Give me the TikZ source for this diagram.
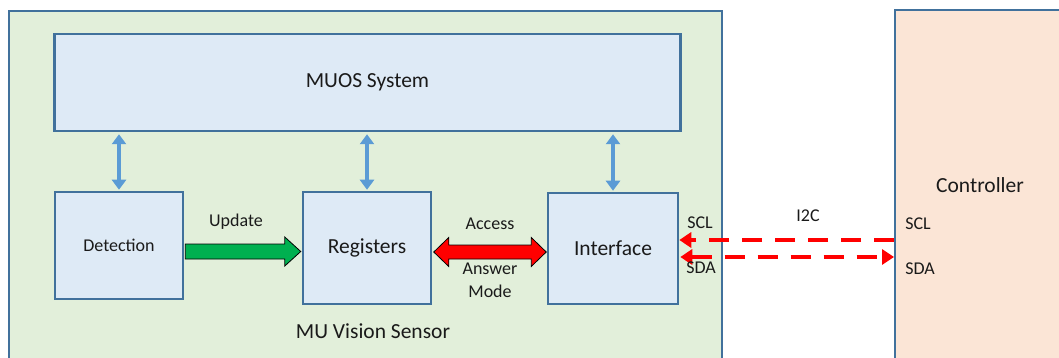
\documentclass[tikz,border=0pt]{standalone}
\usepackage{fontspec}
\setmainfont{Carlito}
\usetikzlibrary{arrows.meta,calc}
\definecolor{bord}{HTML}{41719C}
\definecolor{gfill}{HTML}{E2EFDA}
\definecolor{bfill}{HTML}{DEEAF6}
\definecolor{ofill}{HTML}{FBE5D6}
\definecolor{larrow}{HTML}{5B9BD5}
\definecolor{garrow}{HTML}{00B050}
\definecolor{txt}{HTML}{1A1A1A}
\tikzset{
  blk/.style={draw=bord, line width=2.5pt, fill=bfill, inner sep=0pt, text=txt},
  big/.style={font=\fontsize{21.5}{24}\selectfont, text=txt, inner sep=0pt},
  small/.style={font=\fontsize{18}{21}\selectfont, text=txt, inner sep=0pt},
  vlink/.style={draw=larrow, line width=4pt, {Triangle[width=14pt,length=10pt]}-{Triangle[width=14pt,length=10pt]}, shorten <=2pt, shorten >=1pt},
  bus/.style={draw=red, line width=4pt, dash pattern=on 20pt off 13pt},
  bushead/.tip={Triangle[width=15pt,length=12pt]}
}
\begin{document}
\begin{tikzpicture}[x=1pt,y=-1pt]
\useasboundingbox (0,0) rectangle (1059,358);
\begin{scope}
\clip (0,0) rectangle (1059,358);
% outer boxes
\fill[gfill] (9,11) rectangle (722,370);
\draw[bord, line width=2.5pt] (9,370) -- (9,11) -- (722,11) -- (722,370);
\fill[ofill] (895,10) rectangle (1070,370);
\draw[bord, line width=2.5pt] (895,370) -- (895,10) -- (1070,10);
\end{scope}
% inner blocks
\node[blk, minimum width=626pt, minimum height=97pt, big] (muos) at (367.5,82.5) {MUOS System};
\node[blk, minimum width=128pt, minimum height=107pt, small] (det) at (119,245.5) {Detection};
\node[blk, minimum width=128pt, minimum height=112pt, big] (reg) at (367,248) {Registers};
\node[blk, minimum width=130pt, minimum height=111pt, big] (intf) at (613,248.5) {Interface};
% vertical links
\draw[vlink] (muos.south -| det.north) -- (det.north);
\draw[vlink] (muos.south -| reg.north) -- (reg.north);
\draw[vlink] (muos.south -| intf.north) -- (intf.north);
% green block arrow
\coordinate (g1) at ($(det.east |- 0,251.5)+(1,0)$);
\coordinate (g2) at ($(reg.west |- 0,251.5)+(-1,0)$);
\filldraw[fill=garrow, draw=black, line width=0.8pt, line join=miter]
  ($(g1)+(0,-7.5)$) -- ($(g2)+(-16,-7.5)$) -- ($(g2)+(-16,-14.5)$) -- (g2)
  -- ($(g2)+(-16,14.5)$) -- ($(g2)+(-16,7.5)$) -- ($(g1)+(0,7.5)$) -- cycle;
% red double block arrow
\coordinate (r1) at ($(reg.east |- 0,252)+(1.5,0)$);
\coordinate (r2) at ($(intf.west |- 0,252)+(-0.5,0)$);
\filldraw[fill=red, draw=black, line width=0.8pt, line join=miter]
  (r1) -- ($(r1)+(15,-14.5)$) -- ($(r1)+(15,-7)$) -- ($(r2)+(-15,-7)$) -- ($(r2)+(-15,-14.5)$) -- (r2)
  -- ($(r2)+(-15,14.5)$) -- ($(r2)+(-15,7)$) -- ($(r1)+(15,7)$) -- ($(r1)+(15,14.5)$) -- cycle;
% I2C bus
\coordinate (ctlscl) at (894,240);
\coordinate (ctlsda) at (894,257);
\draw[bus, -bushead] (ctlscl) -- (intf.east |- ctlscl);
\draw[bus, bushead-bushead] ($(intf.east |- ctlsda)+(1,0)$) -- (ctlsda);
% labels
\node[small] (lupd) at (236,222) {Update};
\node[small] (lacc) at (490,224) {Access};
\node[small] (lans) at (490,269) {Answer};
\node[small] (lmode) at (490,291) {Mode};
\node[big] (lmu) at (373,331) {MU Vision Sensor};
\node[small] (lscl1) at (700,223) {SCL};
\node[small] (lsda1) at (701,268) {SDA};
\node[small] (li2c) at (808,216) {I2C};
\node[big] (lctl) at (980,185) {Controller};
\node[small] (lscl2) at (918,224) {SCL};
\node[small] (lsda2) at (920,269) {SDA};
\end{tikzpicture}
\end{document}
